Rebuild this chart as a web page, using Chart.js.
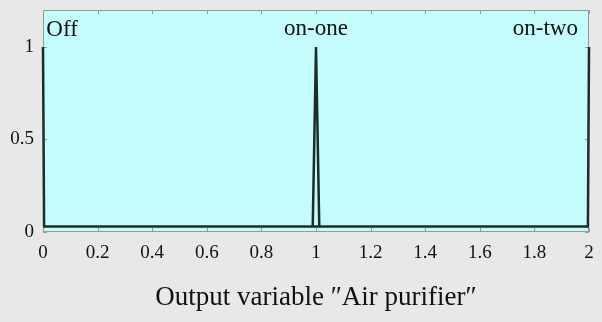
<!DOCTYPE html>
<html>
<head>
<meta charset="utf-8">
<script src="https://cdn.jsdelivr.net/npm/chart.js@4/dist/chart.umd.min.js"></script>
<style>
  html, body { margin: 0; padding: 0; background: #e8e8e8; }
  #wrap { width: 602px; height: 322px; }
</style>
</head>
<body>
<div id="wrap"><canvas id="chart" width="602" height="322"></canvas></div>
<script>
// ── Data ──────────────────────────────────────────────────────────────────────
const mfNames   = ['Off', 'on-one', 'on-two'];
const offMF     = [{ x: 0, y: 1 }, { x: 0.004, y: 0.03 }];
const onOneMF   = [{ x: 0.988, y: 0.03 }, { x: 1, y: 1 }, { x: 1.012, y: 0.03 }];
const onTwoMF   = [{ x: 1.996, y: 0.03 }, { x: 2, y: 1 }];
const baseline  = [{ x: 0, y: 0.03 }, { x: 2, y: 0.03 }];
const xTicks    = [0, 0.2, 0.4, 0.6, 0.8, 1, 1.2, 1.4, 1.6, 1.8, 2];
const yTicks    = [0, 0.5, 1];

// ── Style ─────────────────────────────────────────────────────────────────────
const SERIF    = '"Liberation Serif", "DejaVu Serif", serif';
const LINE     = '#1c2b2b';
const PLOT_BG  = '#c4fcfc';
const labelPos = [
  { x: 0.012, y: 1.09, align: 'left'   },
  { x: 1,     y: 1.10, align: 'center' },
  { x: 1.84,  y: 1.10, align: 'center' },
];

// ── Plugin: plot area background, border, inner ticks, MF names ───────────────
const matlabAxes = {
  id: 'matlabAxes',
  beforeDatasetsDraw(chart) {
    const { ctx, chartArea: a, scales: { x, y } } = chart;
    ctx.save();
    ctx.fillStyle = PLOT_BG;
    ctx.fillRect(a.left, a.top, a.right - a.left, a.bottom - a.top);
    ctx.strokeStyle = '#8f9a9a';
    ctx.lineWidth = 1;
    ctx.strokeRect(a.left + 0.5, a.top + 0.5, a.right - a.left - 1, a.bottom - a.top - 1);
    ctx.beginPath();
    xTicks.forEach(v => {
      const px = Math.round(x.getPixelForValue(v)) + 0.5;
      ctx.moveTo(px, a.bottom); ctx.lineTo(px, a.bottom - 4);
      ctx.moveTo(px, a.top);    ctx.lineTo(px, a.top + 4);
    });
    yTicks.forEach(v => {
      const py = Math.round(y.getPixelForValue(v)) + 0.5;
      ctx.moveTo(a.left, py);  ctx.lineTo(a.left + 4, py);
      ctx.moveTo(a.right, py); ctx.lineTo(a.right - 4, py);
    });
    ctx.stroke();
    ctx.restore();
  },
  afterDatasetsDraw(chart) {
    const { ctx, scales: { x, y } } = chart;
    ctx.save();
    ctx.fillStyle = '#111';
    ctx.font = '23px ' + SERIF;
    ctx.textBaseline = 'middle';
    mfNames.forEach((name, i) => {
      const p = labelPos[i];
      ctx.textAlign = p.align;
      ctx.fillText(name, x.getPixelForValue(p.x), y.getPixelForValue(p.y));
    });
    ctx.restore();
  }
};

// ── Chart ─────────────────────────────────────────────────────────────────────
const line = (data, w) => ({
  data, showLine: true, borderColor: LINE, borderWidth: w,
  pointRadius: 0, fill: false, tension: 0, clip: false,
});

new Chart(document.getElementById('chart'), {
  type: 'scatter',
  data: {
    datasets: [
      line(baseline, 2.5),
      line(offMF, 2.5),
      line(onOneMF, 2.5),
      line(onTwoMF, 2.5),
    ]
  },
  options: {
    responsive: false,
    animation: false,
    layout: { padding: { top: 10, right: 13, left: 0, bottom: 0 } },
    plugins: { legend: { display: false }, tooltip: { enabled: false } },
    scales: {
      x: {
        type: 'linear', min: 0, max: 2,
        afterBuildTicks: s => { s.ticks = xTicks.map(v => ({ value: v })); },
        afterFit: s => { s.height = 90; s.paddingLeft = 0; s.paddingRight = 0; },
        grid: { display: false },
        border: { display: false },
        ticks: {
          color: '#111', font: { family: SERIF, size: 19 }, padding: 2, maxRotation: 0,
          callback: v => String(v),
        },
        title: {
          display: true,
          text: 'Output variable \u2033Air purifier\u2033',
          color: '#111',
          font: { family: SERIF, size: 27 },
          padding: { top: 14, bottom: 8 },
        },
      },
      y: {
        type: 'linear', min: 0, max: 1.2,
        afterBuildTicks: s => { s.ticks = yTicks.map(v => ({ value: v })); },
        afterFit: s => { s.width = 43; s.paddingTop = 0; s.paddingBottom = 0; },
        grid: { display: false },
        border: { display: false },
        ticks: {
          color: '#111', font: { family: SERIF, size: 19 }, padding: 1,
          callback: v => String(v),
        },
      }
    }
  },
  plugins: [matlabAxes]
});
</script>
</body>
</html>
